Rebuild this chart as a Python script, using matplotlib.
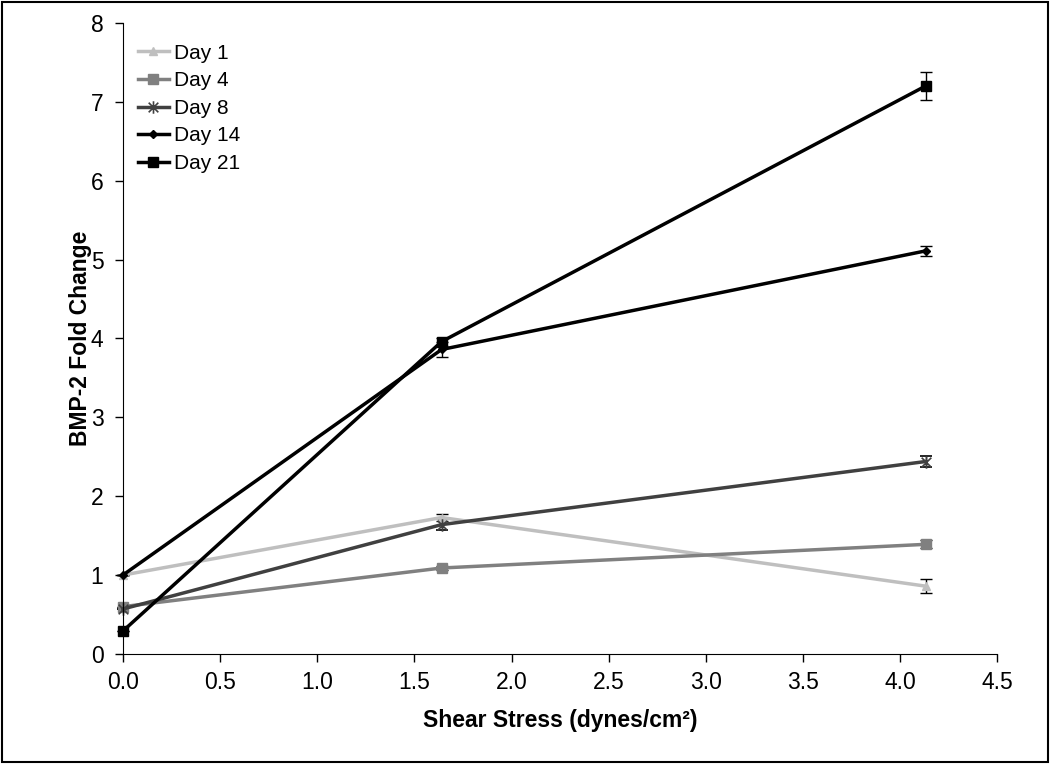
import matplotlib
matplotlib.use("Agg")
import matplotlib.pyplot as plt
from matplotlib.patches import Rectangle
from matplotlib.path import Path

plt.rcParams['font.family'] = ['Liberation Sans', 'DejaVu Sans']

shear = [0.0, 1.64, 4.13]
series_names = ["Day 1", "Day 4", "Day 8", "Day 14", "Day 21"]
day1 = [1.00, 1.73, 0.86]
day4 = [0.60, 1.09, 1.39]
day8 = [0.57, 1.64, 2.44]
day14 = [1.00, 3.86, 5.11]
day21 = [0.29, 3.96, 7.20]
err1 = [0.0, 0.04, 0.09]
err4 = [0.0, 0.03, 0.05]
err8 = [0.0, 0.07, 0.07]
err14 = [0.0, 0.10, 0.06]
err21 = [0.0, 0.05, 0.18]

values = [day1, day4, day8, day14, day21]
errors = [err1, err4, err8, err14, err21]
colors = ["#bfbfbf", "#808080", "#404040", "#000000", "#000000"]

star = Path([(-1, -1), (1, 1), (-1, 1), (1, -1), (0, -1.3), (0, 1.3)],
            [Path.MOVETO, Path.LINETO, Path.MOVETO, Path.LINETO, Path.MOVETO, Path.LINETO])
markers = ["^", "s", star, "D", "s"]
msizes = [6, 7, 9, 4.5, 7]

fig = plt.figure(figsize=(10.5, 7.64), dpi=100)
ax = fig.add_axes([0.117, 0.144, 0.833, 0.826])

for name, v, e, c, m, ms in zip(series_names, values, errors, colors, markers, msizes):
    ax.errorbar(shear, v, yerr=e, color=c, marker=m, markersize=ms, linewidth=2.5,
                markeredgewidth=1.2 if m is star else 1, capsize=4, elinewidth=1,
                ecolor="black", capthick=1, label=name, clip_on=False)

ax.set_xlim(0, 4.5)
ax.set_ylim(0, 8)
xt = [0, 0.5, 1, 1.5, 2, 2.5, 3, 3.5, 4, 4.5]
ax.set_xticks(xt)
ax.set_xticklabels([f"{t:.1f}" for t in xt])
ax.set_yticks(range(0, 9))
ax.tick_params(axis='both', labelsize=16.5, direction='out', length=6, width=1)
ax.tick_params(axis='y', pad=8)
ax.tick_params(axis='x', pad=6)
for s in ['top', 'right']:
    ax.spines[s].set_visible(False)
ax.set_xlabel("Shear Stress (dynes/cm²)", fontsize=16.5, fontweight='bold', labelpad=11)
ax.set_ylabel("BMP-2 Fold Change", fontsize=16.5, fontweight='bold', labelpad=-1)

handles, labels = ax.get_legend_handles_labels()
handles = [h[0] for h in handles]
ax.legend(handles, labels, loc='upper left', frameon=False, fontsize=15,
          handlelength=1.5, handletextpad=0.25, labelspacing=0.41,
          borderpad=0, borderaxespad=0, bbox_to_anchor=(0.017, 0.967))

fig.patches.append(Rectangle((0.002, 0.002), 0.996, 0.996, transform=fig.transFigure,
                             fill=False, edgecolor='black', linewidth=1.5))

fig.savefig("out.png", dpi=100)
